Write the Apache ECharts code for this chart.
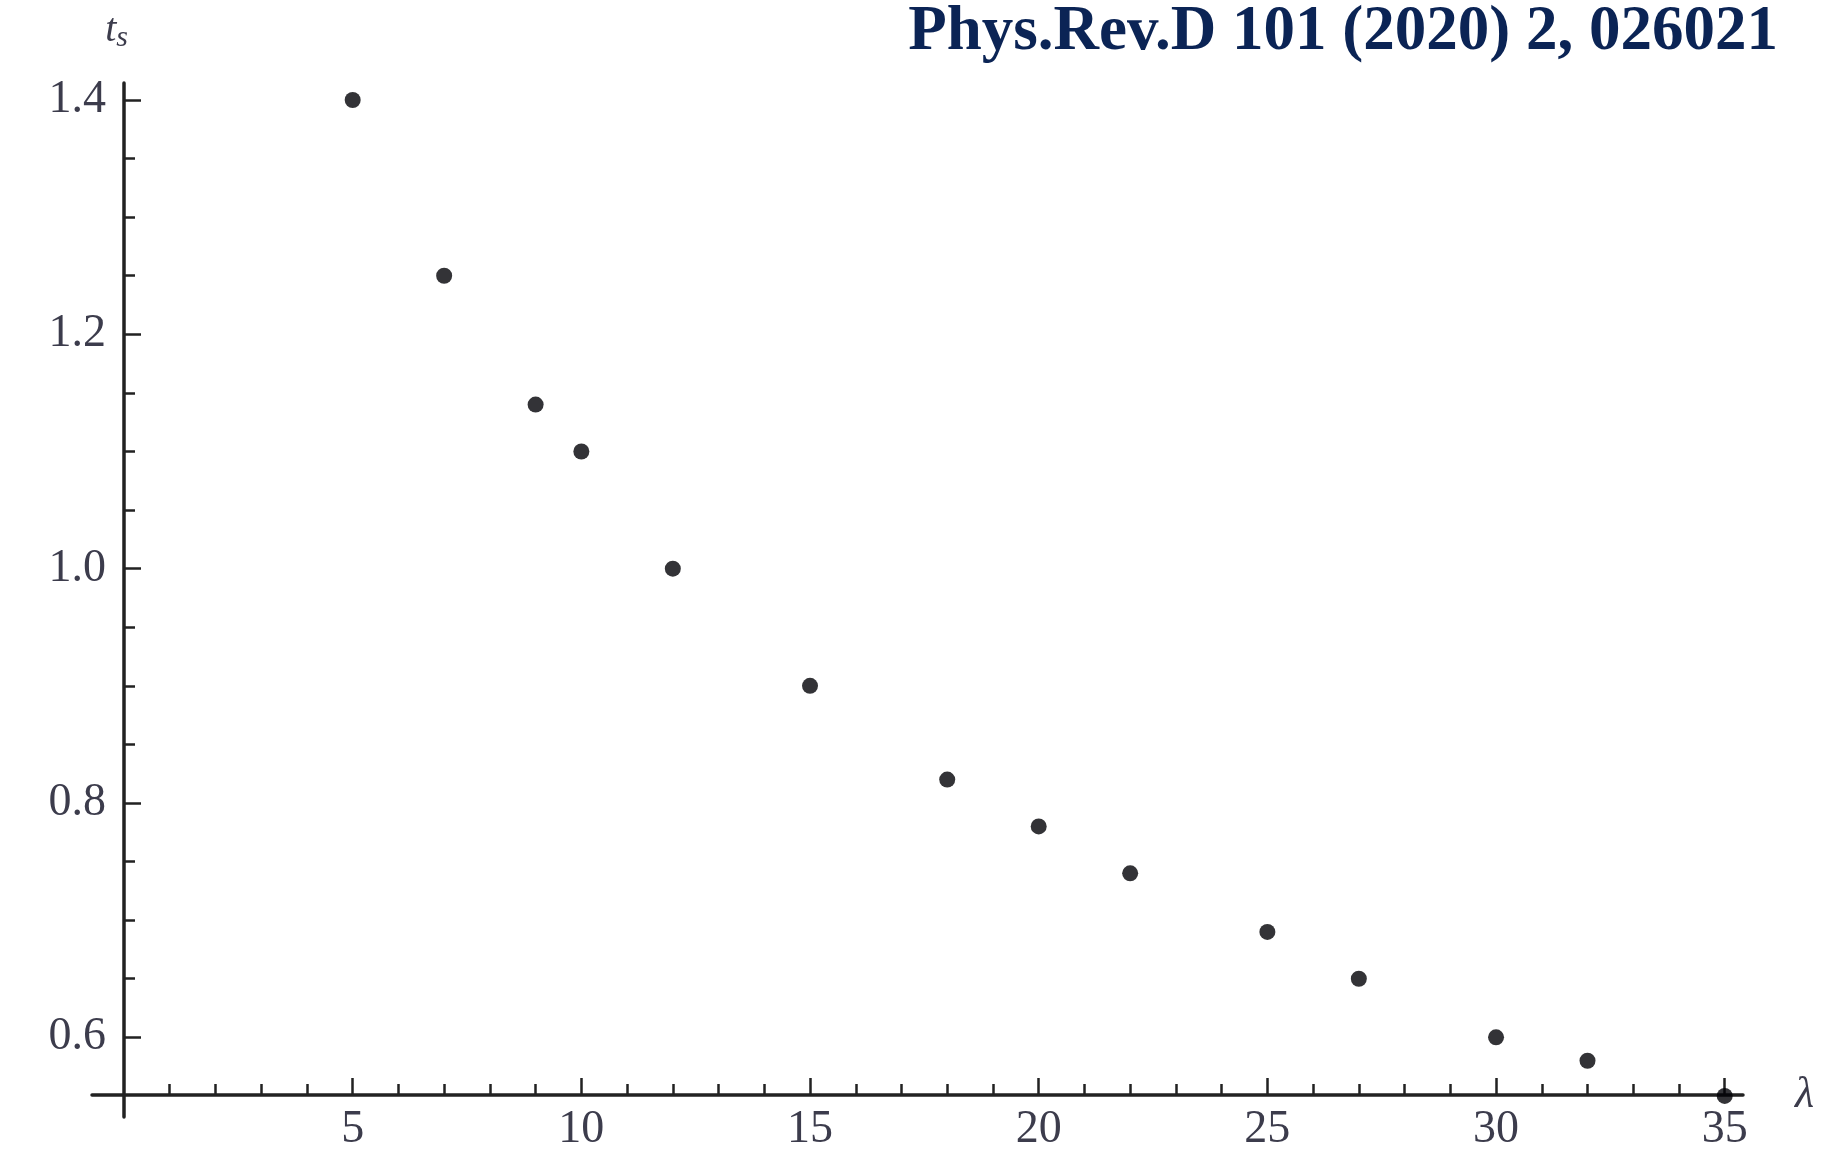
<!DOCTYPE html>
<html>
<head>
<meta charset="utf-8">
<script src="https://cdn.jsdelivr.net/npm/echarts@6/dist/echarts.min.js"></script>
<style>html,body{margin:0;padding:0;background:#fff;}#c{width:1823px;height:1156px;}</style>
</head>
<body>
<div id="c"></div>
<script>
// data
const lambdaValues = [5, 7, 9, 10, 12, 15, 18, 20, 22, 25, 27, 30, 32, 35];
const tsValues = [1.40, 1.25, 1.14, 1.10, 1.00, 0.90, 0.82, 0.78, 0.74, 0.69, 0.65, 0.60, 0.58, 0.55];
const xMajorTicks = [5, 10, 15, 20, 25, 30, 35];
const xMinorTicks = [1, 2, 3, 4, 6, 7, 8, 9, 11, 12, 13, 14, 16, 17, 18, 19, 21, 22, 23, 24, 26, 27, 28, 29, 31, 32, 33, 34];
const yMajorTicks = [0.6, 0.8, 1.0, 1.2, 1.4];
const yMinorTicks = [0.65, 0.7, 0.75, 0.85, 0.9, 0.95, 1.05, 1.1, 1.15, 1.25, 1.3, 1.35];
const titleText = 'Phys.Rev.D 101 (2020) 2, 026021';

const X_MIN = -0.7, X_MAX = 35.4, Y_MIN = 0.532, Y_MAX = 1.4145;
const serif = '"Liberation Serif", "DejaVu Serif", serif';
const axisColor = '#222222';
const labelColor = '#3c3c4c';

const gridBox = { left: 92, right: 80, top: 83, bottom: 39 };

const chart = echarts.init(document.getElementById('c'), null, { renderer: 'canvas' });
chart.setOption({
  backgroundColor: '#fff',
  animation: false,
  title: {
    text: titleText,
    right: 40, top: -4,
    textStyle: { fontFamily: serif, fontWeight: 'bold', fontSize: 63, color: '#0b2455' }
  },
  grid: [
    Object.assign({}, gridBox),
    Object.assign({}, gridBox)
  ],
  xAxis: [
    {
      type: 'value', gridIndex: 0, min: X_MIN, max: X_MAX,
      offset: -22,
      splitLine: { show: false },
      axisLine: { show: true, lineStyle: { color: axisColor, width: 3.5 } },
      axisTick: { show: true, inside: true, length: 17, customValues: xMajorTicks, lineStyle: { color: axisColor, width: 2.5 } },
      axisLabel: { show: true, customValues: xMajorTicks, margin: 12, fontFamily: serif, fontSize: 46, color: labelColor },
      name: 'λ', nameLocation: 'end', nameGap: 52,
      nameTextStyle: { fontFamily: serif, fontStyle: 'italic', fontSize: 44, color: labelColor, verticalAlign: 'middle', padding: [0, 0, 0, 0] }
    },
    {
      type: 'value', gridIndex: 1, min: X_MIN, max: X_MAX,
      offset: -22,
      splitLine: { show: false },
      axisLine: { show: false },
      axisTick: { show: true, inside: true, length: 11, customValues: xMinorTicks, lineStyle: { color: axisColor, width: 2.5 } },
      axisLabel: { show: false }
    }
  ],
  yAxis: [
    {
      type: 'value', gridIndex: 0, min: Y_MIN, max: Y_MAX,
      offset: -32,
      splitLine: { show: false },
      axisLine: { show: true, onZero: false, lineStyle: { color: axisColor, width: 3.5 } },
      axisTick: { show: true, inside: true, length: 17, customValues: yMajorTicks, lineStyle: { color: axisColor, width: 2.5 } },
      axisLabel: { show: true, customValues: yMajorTicks, margin: 18, fontFamily: serif, fontSize: 46, color: labelColor,
        formatter: v => v.toFixed(1) },
      name: '{t|t}{s|s}', nameLocation: 'end', nameGap: 30,
      nameTextStyle: {
        align: 'right', padding: [0, -4, 0, 0],
        rich: {
          t: { fontFamily: serif, fontStyle: 'italic', fontSize: 40, color: labelColor },
          s: { fontFamily: serif, fontStyle: 'italic', fontSize: 30, color: labelColor, verticalAlign: 'bottom', padding: [16, 0, 0, 0] }
        }
      }
    },
    {
      type: 'value', gridIndex: 1, min: Y_MIN, max: Y_MAX,
      offset: -32,
      splitLine: { show: false },
      axisLine: { show: false, onZero: false },
      axisTick: { show: true, inside: true, length: 11, customValues: yMinorTicks, lineStyle: { color: axisColor, width: 2.5 } },
      axisLabel: { show: false }
    }
  ],
  series: [
    {
      type: 'scatter', xAxisIndex: 0, yAxisIndex: 0,
      data: lambdaValues.map((x, i) => [x, tsValues[i]]),
      symbol: 'circle', symbolSize: 16,
      itemStyle: { color: '#000005' },
      z: 5
    }
  ]
});
</script>
</body>
</html>
